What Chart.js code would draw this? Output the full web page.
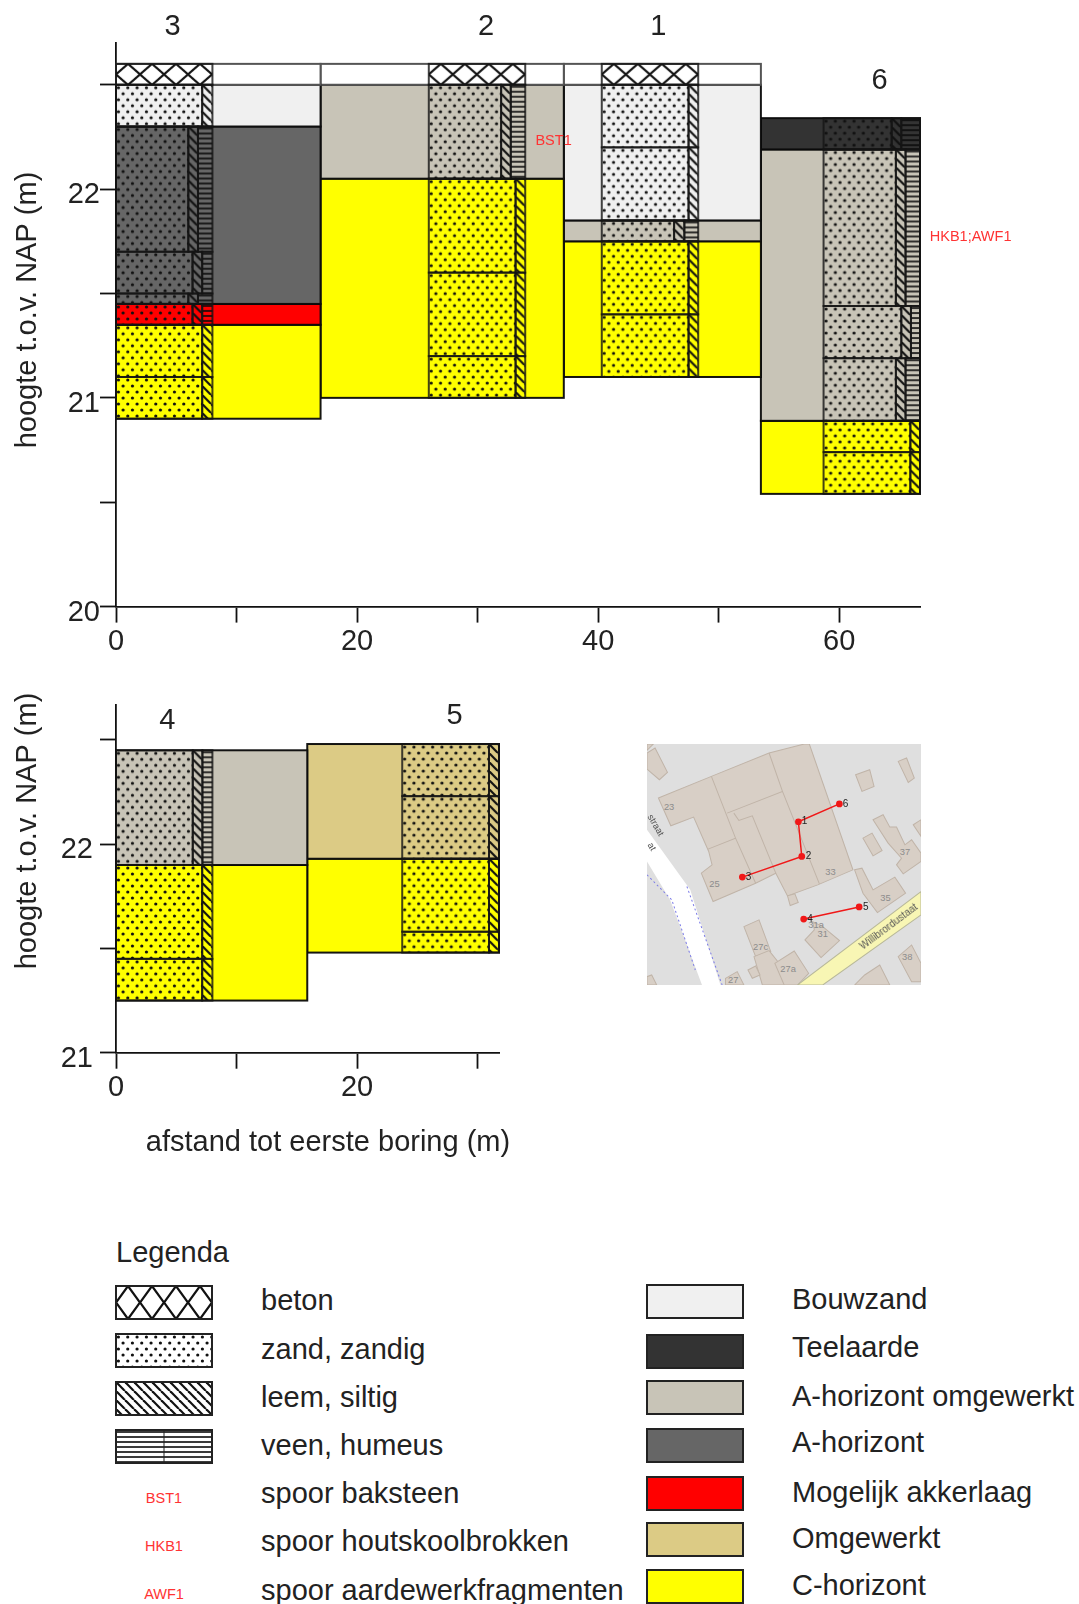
<!DOCTYPE html>
<html>
<head>
<meta charset="utf-8">
<style>
  html, body { margin: 0; padding: 0; background: #fff; }
  body { position: relative; width: 1079px; height: 1604px; overflow: hidden; font-family: "Liberation Sans", Arial, sans-serif; color: #222; }
  canvas { position: absolute; display: block; }
  svg { position: absolute; left: 647px; top: 744px; }
  .lg { position: absolute; font-size: 29px; line-height: 34px; white-space: nowrap; }
  .code { position: absolute; font-size: 14.5px; line-height: 16px; color: #f33; transform: translateX(-50%); }
</style>
<script src="https://cdn.jsdelivr.net/npm/chart.js@4/dist/chart.umd.min.js"></script>
</head>
<body>
<canvas id="top-chart" width="1079" height="680" style="left:0;top:0"></canvas>
<canvas id="bottom-chart" width="1079" height="480" style="left:0;top:680px"></canvas>

<svg width="274" height="241" viewBox="21 43 817 722" preserveAspectRatio="none">
  <rect x="21" y="43" width="817" height="722" fill="#dfdfdf"/>
  <g fill="#d8cfc6" stroke="#c0b4a8" stroke-width="3">
    <path d="M21 70L45 55L82 128L58 150L21 118Z"/>
    <path d="M21 43H40L21 62Z"/>
    <path d="M55 205L213 140L385 70L490 43H505L635 420L530 465L440 498L405 430L345 460L218 515L183 430L215 405L205 365L160 262L92 288Z"/>
    <path d="M213 140L285 325L203 358M285 325L345 460M385 70L425 185L260 250M280 250L295 272L335 258L405 430M425 185L535 462" fill="none"/>
    <path d="M440 498L462 492L472 518L448 527Z"/>
    <path d="M643 135L685 120L698 170L662 185Z"/>
    <path d="M770 95L795 85L818 145L800 158Z"/>
    <path d="M665 325L692 310L722 362L695 378Z"/>
    <path d="M695 270L725 255L745 292L765 292L790 345L810 330L838 370V395L785 432L765 405L780 385L740 340Z"/>
    <path d="M815 285L838 270V320Z"/>
    <path d="M640 420L662 415L695 480L760 442L792 490L708 548L665 490Z"/>
    <path d="M310 590L355 570L390 665L345 680Z"/>
    <path d="M340 680L385 662L415 700L445 765H365Z"/>
    <path d="M402 700L460 663L503 730L470 765H430Z"/>
    <path d="M492 630L520 600L515 575L545 590L595 632L540 683Z"/>
    <path d="M770 680L810 645L838 700V755H810Z"/>
    <path d="M322 720L345 708L358 735L335 745Z"/>
    <path d="M255 745L290 725L310 765H255Z"/>
    <path d="M21 740L35 735L50 765H21Z"/>
    <path d="M640 765L670 735L715 705L745 765Z"/>
  </g>
  <path d="M21 300L150 480L240 765H185L90 510L21 395Z" fill="#fff"/>
  <path d="M21 435L95 510L165 720M140 470L245 765" fill="none" stroke="#7a7ae8" stroke-width="3" stroke-dasharray="6 8"/>
  <path d="M470 765L838 485V555L545 765Z" fill="#f8f6b4" stroke="#b8b89a" stroke-width="3"/>
  <g fill="#8c8c8c" font-size="28" font-family="Liberation Sans" text-anchor="middle">
    <text x="87" y="242">23</text><text x="222" y="472">25</text><text x="568" y="434">33</text>
    <text x="732" y="512">35</text><text x="790" y="376">37</text><text x="797" y="690">38</text>
    <text x="545" y="622">31</text><text x="525" y="594">31a</text><text x="360" y="660">27c</text>
    <text x="442" y="726">27a</text><text x="278" y="758">27</text>
  </g>
  <text x="0" y="0" transform="translate(665 660) rotate(-37)" font-size="30" fill="#555" font-family="Liberation Sans">Willibrordustaat</text>
  <text x="0" y="0" transform="translate(22 260) rotate(60)" font-size="28" fill="#555" font-family="Liberation Sans">straat</text>
  <text x="0" y="0" transform="translate(22 345) rotate(60)" font-size="28" fill="#555" font-family="Liberation Sans">at</text>
</svg>
<canvas id="map-chart" width="274" height="241" style="left:647px;top:744px"></canvas>

<div id="legend"></div>

<script>
// horizons per section, everything in metres
const boringNames = ['3', '2', '1', '6', '4', '5'];
const topYTicks = { min: 20, max: 22.7 };
const bottomYTicks = { min: 21, max: 22.67 };

const section3Depths = [22.6, 22.5, 22.3, 21.45, 21.35, 20.9];
const section3Soil = ['leeg', 'Bouwzand', 'A-horizont', 'Mogelijk akkerlaag', 'C-horizont'];
const section2Depths = [22.6, 22.5, 22.05, 21];
const section2Soil = ['leeg', 'A-horizont omgewerkt', 'C-horizont'];
const section1Depths = [22.6, 22.5, 21.85, 21.75, 21.1];
const section1Soil = ['leeg', 'Bouwzand', 'A-horizont omgewerkt', 'C-horizont'];
const section6Depths = [22.34, 22.19, 20.89, 20.54];
const section6Soil = ['Teelaarde', 'A-horizont omgewerkt', 'C-horizont'];
const section4Depths = [22.45, 21.9, 21.25];
const section4Soil = ['A-horizont omgewerkt', 'C-horizont'];
const section5Depths = [22.48, 21.93, 21.48];
const section5Soil = ['Omgewerkt', 'C-horizont'];

// borings: layer depths and how wide each lithology is drawn per layer
const boring3Depths = [22.6, 22.5, 22.3, 21.7, 21.5, 21.45, 21.35, 21.1, 20.9];
const boring3Beton = [8, 0, 0, 0, 0, 0, 0, 0];
const boring3Zand = [0, 7.15, 6, 6.35, 6, 6.35, 7.15, 7.15];
const boring3Leem = [0, 0.85, 0.8, 0.8, 0.8, 0.8, 0.85, 0.85];
const boring3Veen = [0, 0, 1.2, 0.85, 1.2, 0.85, 0, 0];

const boring2Depths = [22.6, 22.5, 22.05, 21.6, 21.2, 21];
const boring2Beton = [8, 0, 0, 0, 0];
const boring2Zand = [0, 6, 7.2, 7.2, 7.2];
const boring2Leem = [0, 0.8, 0.8, 0.8, 0.8];
const boring2Veen = [0, 1.2, 0, 0, 0];

const boring1Depths = [22.6, 22.5, 22.2, 21.85, 21.75, 21.4, 21.1];
const boring1Beton = [8, 0, 0, 0, 0, 0];
const boring1Zand = [0, 7.2, 7.2, 6, 7.2, 7.2];
const boring1Leem = [0, 0.8, 0.8, 0.85, 0.8, 0.8];
const boring1Veen = [0, 0, 0, 1.15, 0, 0];

const boring6Depths = [22.34, 22.19, 21.44, 21.19, 20.89, 20.74, 20.54];
const boring6Zand = [5.65, 6, 6.45, 6, 7.2, 7.2];
const boring6Leem = [0.8, 0.8, 0.8, 0.8, 0.8, 0.8];
const boring6Veen = [1.55, 1.2, 0.75, 1.2, 0, 0];

const boring4Depths = [22.45, 21.9, 21.45, 21.25];
const boring4Zand = [6.37, 7.15, 7.15];
const boring4Leem = [0.8, 0.85, 0.85];
const boring4Veen = [0.83, 0, 0];

const boring5Depths = [22.48, 22.23, 21.93, 21.58, 21.48];
const boring5Zand = [7.2, 7.2, 7.2, 7.2];
const boring5Leem = [0.83, 0.83, 0.83, 0.83];

const topEdges = [0, 16.97, 37.15, 53.5, 66.7];
const topBoringX = [0, 25.95, 40.3, 58.7];
const bottomEdges = [0, 15.87, 31.78];
const bottomBoringX = [0, 23.75];

// kaart: boorpunten in kaartcoordinaten
const mapNames = ['1', '2', '3', '4', '5', '6'];
const mapRouteAx = [194.7, 152, 155.5, 93.6];
const mapRouteAy = [57, 75.7, 112, 133.7];
const mapRouteBx = [157.5, 215.3];
const mapRouteBy = [177.7, 165];

const legendLeft = ['beton', 'zand, zandig', 'leem, siltig', 'veen, humeus', 'spoor baksteen', 'spoor houtskoolbrokken', 'spoor aardewerkfragmenten'];
const legendCodes = ['BST1', 'HKB1', 'AWF1'];
const legendRight = ['Bouwzand', 'Teelaarde', 'A-horizont omgewerkt', 'A-horizont', 'Mogelijk akkerlaag', 'Omgewerkt', 'C-horizont'];

const soilColors = {
  'leeg': '#ffffff',
  'Bouwzand': '#f0f0f0',
  'Teelaarde': '#333333',
  'A-horizont omgewerkt': '#c8c4b7',
  'A-horizont': '#666666',
  'Mogelijk akkerlaag': '#ff0000',
  'Omgewerkt': '#dccb85',
  'C-horizont': '#ffff00'
};

function makePattern(w, h, paint) {
  const tile = document.createElement('canvas');
  tile.width = w;
  tile.height = h;
  paint(tile.getContext('2d'));
  return tile.getContext('2d').createPattern(tile, 'repeat');
}

// dots sit 28/3 px apart on staggered rows, three of them fit a whole tile
const zandPattern = makePattern(28, 12, g => {
  g.fillStyle = '#111';
  for (let i = 0; i < 3; i++) {
    [[2.4 + i * 28 / 3, 3], [7.07 + i * 28 / 3, 9]].forEach(p => {
      g.beginPath();
      g.arc(p[0], p[1], 1.6, 0, Math.PI * 2);
      g.fill();
    });
  }
});

const leemPattern = makePattern(9, 9, g => {
  g.strokeStyle = '#111';
  g.lineWidth = 2.2;
  [-9, 0, 9].forEach(o => {
    g.beginPath();
    g.moveTo(o, 0);
    g.lineTo(o + 9, 9);
    g.stroke();
  });
});

const veenPattern = makePattern(8, 5, g => {
  g.fillStyle = 'rgba(10,10,10,0.8)';
  g.fillRect(0, 1, 8, 2);
});

function crossPattern(w, h) {
  return makePattern(w, h, g => {
    g.strokeStyle = '#111';
    g.lineWidth = 2.2;
    g.beginPath();
    g.moveTo(0, h / 2);
    g.lineTo(w / 2, 0);
    g.lineTo(w, h / 2);
    g.lineTo(w / 2, h);
    g.closePath();
    g.stroke();
  });
}
const betonPattern = crossPattern(24, 21);
const betonLegendPattern = crossPattern(24, 33);

function rectDataset(x0, x1, top, bottom, fill, line) {
  return {
    data: [{ x: x0, y: top }, { x: x1, y: bottom }],
    backgroundColor: fill,
    lineColor: line || 'rgba(10,10,10,0.95)',
    pointRadius: 0,
    pointHoverRadius: 0,
    showLine: false
  };
}

function sectionSets(x0, x1, depths, soil) {
  return soil.map((name, i) => rectDataset(
    x0, x1, depths[i], depths[i + 1], soilColors[name],
    name === 'leeg' ? '#555' : null
  ));
}

// one horizontal run of beton / zand / leem / veen cells per layer
function boringSets(x, depths, columns) {
  const sets = [];
  for (let i = 0; i < depths.length - 1; i++) {
    let left = x;
    columns.forEach(col => {
      const w = col.widths[i];
      if (w > 0) {
        sets.push(rectDataset(left, left + w, depths[i], depths[i + 1], col.pattern, 'rgba(20,20,20,0.8)'));
        left += w;
      }
    });
  }
  return sets;
}

const rectPainter = {
  id: 'rectPainter',
  afterDatasetDraw(chart, args) {
    const pts = args.meta.data;
    const ds = chart.data.datasets[args.index];
    if (!ds.lineColor) return;
    const x = pts[0].x, y = pts[0].y, w = pts[1].x - x, h = pts[1].y - y;
    const ctx = chart.ctx;
    ctx.save();
    ctx.translate(x, y);
    ctx.fillStyle = ds.backgroundColor;
    ctx.fillRect(0, 0, w, h);
    ctx.strokeStyle = ds.lineColor;
    ctx.lineWidth = 2;
    ctx.strokeRect(0, 0, w, h);
    ctx.restore();
  }
};

// free text: plot labels placed on data coordinates, titles on pixels
const textPainter = {
  id: 'textPainter',
  afterDraw(chart, args, opts) {
    const ctx = chart.ctx;
    ctx.save();
    ctx.textAlign = 'center';
    ctx.textBaseline = 'middle';
    (opts.items || []).forEach(t => {
      const px = t.px != null ? t.px : chart.scales.x.getPixelForValue(t.x);
      const py = t.py != null ? t.py : chart.scales.y.getPixelForValue(t.y);
      ctx.save();
      ctx.translate(px, py);
      if (t.rotate) ctx.rotate(t.rotate);
      ctx.font = (t.size || 29) + 'px "Liberation Sans"';
      ctx.fillStyle = t.color || '#222';
      ctx.fillText(t.text, 0, 0);
      ctx.restore();
    });
    ctx.restore();
  }
};

function profileOptions(cfg) {
  const tickFont = { family: 'Liberation Sans', size: 29 };
  return {
    responsive: false,
    animation: false,
    events: [],
    layout: { padding: { left: 0, top: cfg.top, right: cfg.right, bottom: 0 } },
    plugins: { legend: { display: false }, tooltip: { enabled: false }, textPainter: { items: cfg.items } },
    scales: {
      x: {
        type: 'linear',
        min: 0,
        max: cfg.xMax,
        afterFit: s => { s.height = cfg.xHeight; },
        border: { color: '#111', width: 1.8 },
        grid: { drawOnChartArea: false, tickLength: 16, tickColor: '#111', tickWidth: 1.8 },
        ticks: {
          stepSize: 10,
          includeBounds: false,
          maxRotation: 0,
          autoSkip: false,
          color: '#222',
          font: tickFont,
          padding: 2,
          callback: v => (v % 20 === 0 ? String(v) : '')
        }
      },
      y: {
        type: 'linear',
        min: cfg.yRange.min,
        max: cfg.yRange.max,
        afterFit: s => { s.width = 116; },
        border: { color: '#111', width: 1.8 },
        grid: { drawOnChartArea: false, tickLength: 16, tickColor: '#111', tickWidth: 1.8 },
        ticks: {
          stepSize: 0.5,
          includeBounds: false,
          autoSkip: false,
          color: '#222',
          font: tickFont,
          padding: cfg.yPad,
          labelOffset: 6,
          callback: v => (Number.isInteger(v) ? String(v) : '')
        }
      }
    }
  };
}

// chart.js paints the first dataset last, so borings go in front of the sections
const topSets = [
  ...boringSets(topBoringX[0], boring3Depths, [
    { widths: boring3Beton, pattern: betonPattern }, { widths: boring3Zand, pattern: zandPattern },
    { widths: boring3Leem, pattern: leemPattern }, { widths: boring3Veen, pattern: veenPattern }]),
  ...boringSets(topBoringX[1], boring2Depths, [
    { widths: boring2Beton, pattern: betonPattern }, { widths: boring2Zand, pattern: zandPattern },
    { widths: boring2Leem, pattern: leemPattern }, { widths: boring2Veen, pattern: veenPattern }]),
  ...boringSets(topBoringX[2], boring1Depths, [
    { widths: boring1Beton, pattern: betonPattern }, { widths: boring1Zand, pattern: zandPattern },
    { widths: boring1Leem, pattern: leemPattern }, { widths: boring1Veen, pattern: veenPattern }]),
  ...boringSets(topBoringX[3], boring6Depths, [
    { widths: boring6Zand, pattern: zandPattern },
    { widths: boring6Leem, pattern: leemPattern }, { widths: boring6Veen, pattern: veenPattern }]),
  ...sectionSets(topEdges[0], topEdges[1], section3Depths, section3Soil),
  ...sectionSets(topEdges[1], topEdges[2], section2Depths, section2Soil),
  ...sectionSets(topEdges[2], topEdges[3], section1Depths, section1Soil),
  ...sectionSets(topEdges[3], topEdges[4], section6Depths, section6Soil)
];

new Chart(document.getElementById('top-chart'), {
  type: 'scatter',
  data: { datasets: topSets },
  plugins: [rectPainter, textPainter],
  options: profileOptions({
    top: 43, right: 159, xMax: topEdges[4], xHeight: 73.4, yRange: topYTicks, yPad: 0,
    items: [
      { text: boringNames[0], x: 4.7, py: 27 },
      { text: boringNames[1], x: 30.7, py: 27 },
      { text: boringNames[2], x: 45, py: 27 },
      { text: boringNames[3], x: 63.35, py: 81 },
      { text: 'BST1', x: 36.3, py: 141, size: 14.5, color: '#f33' },
      { text: 'HKB1;AWF1', x: 70.9, py: 237, size: 14.5, color: '#f33' },
      { text: 'hoogte t.o.v. NAP (m)', px: 28, py: 310, rotate: -Math.PI / 2 }
    ]
  })
});

const bottomSets = [
  ...boringSets(bottomBoringX[0], boring4Depths, [
    { widths: boring4Zand, pattern: zandPattern },
    { widths: boring4Leem, pattern: leemPattern }, { widths: boring4Veen, pattern: veenPattern }]),
  ...boringSets(bottomBoringX[1], boring5Depths, [
    { widths: boring5Zand, pattern: zandPattern }, { widths: boring5Leem, pattern: leemPattern }]),
  ...sectionSets(bottomEdges[0], bottomEdges[1], section4Depths, section4Soil),
  ...sectionSets(bottomEdges[1], bottomEdges[2], section5Depths, section5Soil)
];

new Chart(document.getElementById('bottom-chart'), {
  type: 'scatter',
  data: { datasets: bottomSets },
  plugins: [rectPainter, textPainter],
  options: profileOptions({
    top: 24, right: 580, xMax: bottomEdges[2], xHeight: 107.3, yRange: bottomYTicks, yPad: 7,
    items: [
      { text: boringNames[4], x: 4.25, py: 41 },
      { text: boringNames[5], x: 28.1, py: 36 },
      { text: 'hoogte t.o.v. NAP (m)', px: 28, py: 151, rotate: -Math.PI / 2 },
      { text: 'afstand tot eerste boring (m)', px: 328, py: 463 }
    ]
  })
});

new Chart(document.getElementById('map-chart'), {
  type: 'scatter',
  data: {
    datasets: [
      { data: mapRouteAx.map((x, i) => ({ x, y: mapRouteAy[i] })), showLine: true, borderColor: '#f01818', borderWidth: 1.5, backgroundColor: '#f01818', pointRadius: 2.6 },
      { data: mapRouteBx.map((x, i) => ({ x, y: mapRouteBy[i] })), showLine: true, borderColor: '#f01818', borderWidth: 1.5, backgroundColor: '#f01818', pointRadius: 2.6 }
    ]
  },
  plugins: [textPainter],
  options: {
    responsive: false,
    animation: false,
    events: [],
    plugins: {
      legend: { display: false },
      tooltip: { enabled: false },
      textPainter: {
        items: [
          { text: mapNames[0], x: mapRouteAx[1] + 6.5, y: mapRouteAy[1], size: 10 },
          { text: mapNames[1], x: mapRouteAx[2] + 7, y: mapRouteAy[2], size: 10 },
          { text: mapNames[2], x: mapRouteAx[3] + 6.5, y: mapRouteAy[3], size: 10 },
          { text: mapNames[3], x: mapRouteBx[0] + 6.5, y: mapRouteBy[0], size: 10 },
          { text: mapNames[4], x: mapRouteBx[1] + 7, y: mapRouteBy[1], size: 10 },
          { text: mapNames[5], x: mapRouteAx[0] + 6.5, y: mapRouteAy[0], size: 10 }
        ]
      }
    },
    scales: {
      x: { display: false, min: 0, max: 274 },
      y: { display: false, min: 0, max: 241, reverse: true }
    }
  }
});

// legend, plain DOM and small canvases
const legendBox = document.getElementById('legend');
const leftRows = [1300, 1349, 1397, 1445, 1493, 1541, 1590];
const rightRows = [1299, 1347, 1396, 1442, 1492, 1538, 1585];

function addText(text, x, cy) {
  const el = document.createElement('div');
  el.className = 'lg';
  el.textContent = text;
  el.style.left = x + 'px';
  el.style.top = (cy - 17) + 'px';
  legendBox.appendChild(el);
}

function addSwatch(x, y, w, h, fill, stroke) {
  const c = document.createElement('canvas');
  c.width = w + 4;
  c.height = h + 4;
  c.style.left = (x - 2) + 'px';
  c.style.top = (y - 2) + 'px';
  const g = c.getContext('2d');
  g.translate(2, 2);
  g.fillStyle = fill;
  g.fillRect(0, 0, w, h);
  g.strokeStyle = stroke || '#222';
  g.lineWidth = 2;
  g.strokeRect(0, 0, w, h);
  legendBox.appendChild(c);
  return g;
}

addText('Legenda', 116, 1252);
legendLeft.forEach((name, i) => addText(name, 261, leftRows[i]));
legendRight.forEach((name, i) => addText(name, 792, rightRows[i]));
legendCodes.forEach((code, i) => {
  const el = document.createElement('div');
  el.className = 'code';
  el.textContent = code;
  el.style.left = '164px';
  el.style.top = (1498 + i * 48 - 8) + 'px';
  legendBox.appendChild(el);
});

[betonLegendPattern, zandPattern, leemPattern, veenPattern].forEach((p, i) => {
  const g = addSwatch(116, 1285.5 + i * 48.2, 96, 33, p);
  if (p === veenPattern) {
    g.strokeStyle = '#222';
    g.lineWidth = 1;
    g.beginPath();
    g.moveTo(48, 0);
    g.lineTo(48, 33);
    g.stroke();
  }
});
const swatchTops = [1285, 1335, 1381, 1429, 1477, 1523, 1570];
legendRight.forEach((name, i) => addSwatch(647, swatchTops[i], 96, 33, soilColors[name]));
</script>
</body>
</html>
